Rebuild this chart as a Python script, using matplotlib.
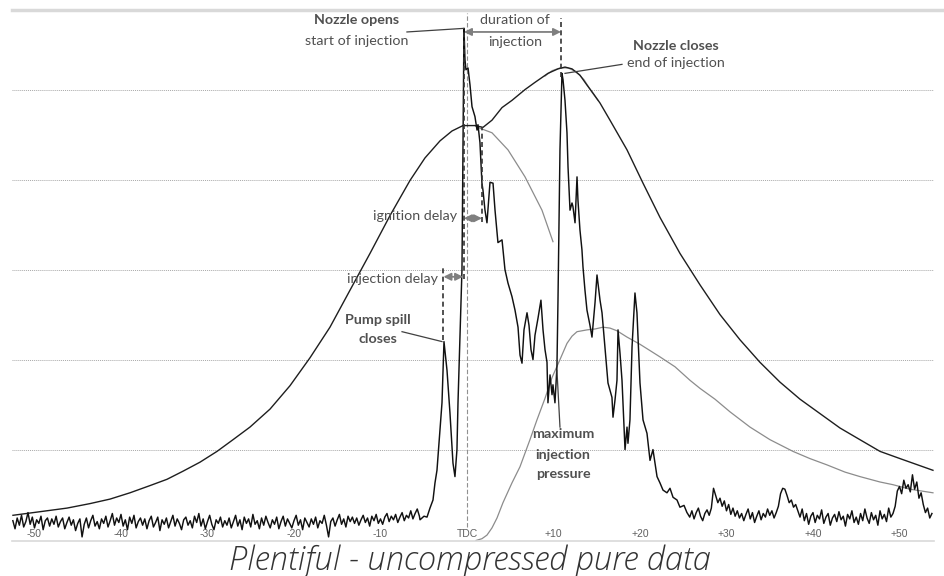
import numpy as np
import matplotlib
matplotlib.use("Agg")
import matplotlib.pyplot as plt

# ---------------- data (crank angle in degrees, value in grid units) ----------------
tick_deg = [-50, -40, -30, -20, -10, 0, 10, 20, 30, 40, 50]
tick_labels = ["-50", "-40", "-30", "-20", "-10", "TDC", "+10", "+20", "+30", "+40", "+50"]

# cylinder pressure (black smooth curve)
cyl_deg = [-52.49, -49.36, -46.24, -43.58, -41.27, -38.96, -36.65, -34.68, -32.83, -30.87,
           -28.90, -27.05, -25.09, -22.77, -20.46, -18.15, -15.84, -13.53, -11.21, -8.90,
           -6.59, -4.86, -3.12, -1.73, -0.46, 0.92, 1.85, 2.89, 4.05, 5.20, 6.71, 7.86, 9.36,
           10.52, 11.33, 12.14, 13.06, 13.87, 14.57, 15.38, 16.53, 18.50, 20.35, 22.31, 24.62,
           26.94, 29.25, 31.56, 33.87, 36.18, 38.50, 40.81, 43.12, 45.43, 47.75, 50.06, 53.87]
cyl_val = [0.28, 0.32, 0.36, 0.41, 0.46, 0.53, 0.61, 0.68, 0.77, 0.87,
           0.99, 1.12, 1.26, 1.46, 1.72, 2.03, 2.37, 2.78, 3.19, 3.61,
           4.00, 4.25, 4.44, 4.55, 4.61, 4.61, 4.59, 4.67, 4.81, 4.89, 5.01, 5.09, 5.19,
           5.24, 5.26, 5.24, 5.17, 5.06, 4.97, 4.86, 4.67, 4.34, 3.97, 3.59, 3.19,
           2.84, 2.51, 2.23, 1.98, 1.76, 1.57, 1.41, 1.25, 1.12, 0.99, 0.91, 0.78]

# motoring continuation (grey)
motor_deg = [0.92, 1.50, 2.89, 4.74, 6.71, 8.67, 9.94]
motor_val = [4.61, 4.58, 4.53, 4.34, 4.04, 3.67, 3.32]

# grey twin near pressure peak
twin_deg = [9.02, 9.83, 10.75, 11.68, 12.60, 13.53, 14.45, 15.14]
twin_val = [5.16, 5.22, 5.25, 5.25, 5.21, 5.12, 4.98, 4.89]

# needle lift / second grey curve
lift_deg = [1.04, 1.73, 2.31, 2.89, 3.47, 4.16, 5.20, 6.13, 7.28, 8.09, 9.02, 9.83, 10.75,
            11.56, 12.14, 12.72, 13.87, 14.80, 15.72, 16.53, 17.34, 18.50, 20.00, 21.16,
            22.31, 24.05, 25.78, 26.94, 28.67, 30.40, 32.72, 35.03, 37.69, 39.65, 41.62,
            43.70, 45.43, 47.75, 49.25, 51.21, 53.87]
lift_val = [0.00, 0.02, 0.06, 0.14, 0.25, 0.42, 0.64, 0.82, 1.12, 1.34, 1.58, 1.81, 2.01,
            2.19, 2.27, 2.32, 2.34, 2.35, 2.37, 2.36, 2.33, 2.26, 2.18, 2.11,
            2.04, 1.93, 1.78, 1.69, 1.57, 1.43, 1.26, 1.12, 0.99, 0.91, 0.84,
            0.76, 0.71, 0.65, 0.62, 0.57, 0.53]

# injection line pressure trace: noise before injection (0.25 deg steps from -52.5)
pre_start, pre_step = -52.5, 0.25
pre_val = [0.22, 0.13, 0.25, 0.17, 0.28, 0.15, 0.21, 0.31, 0.18, 0.26, 0.14, 0.23, 0.19, 0.27, 0.12, 0.22, 0.25, 0.16, 0.24, 0.18,
           0.27, 0.15, 0.21, 0.25, 0.13, 0.20, 0.26, 0.17, 0.23, 0.11, 0.19, 0.24, 0.04, 0.18, 0.25, 0.14, 0.22, 0.28, 0.16, 0.21,
           0.13, 0.24, 0.19, 0.27, 0.15, 0.22, 0.30, 0.17, 0.25, 0.20, 0.29, 0.16, 0.23, 0.12, 0.26, 0.19, 0.28, 0.14, 0.21, 0.25,
           0.17, 0.24, 0.13, 0.22, 0.27, 0.15, 0.20, 0.26, 0.11, 0.23, 0.18, 0.25, 0.14, 0.21, 0.28, 0.16, 0.24, 0.19, 0.12, 0.23,
           0.26, 0.17, 0.22, 0.14, 0.27, 0.20, 0.30, 0.16, 0.24, 0.13, 0.21, 0.28, 0.18, 0.12, 0.23, 0.19, 0.26, 0.15, 0.22, 0.17,
           0.25, 0.14, 0.21, 0.28, 0.16, 0.23, 0.12, 0.26, 0.19, 0.24, 0.15, 0.29, 0.18, 0.22, 0.13, 0.25, 0.17, 0.27, 0.20, 0.14,
           0.23, 0.18, 0.26, 0.13, 0.21, 0.27, 0.16, 0.24, 0.19, 0.14, 0.22, 0.28, 0.17, 0.23, 0.12, 0.25, 0.20, 0.15, 0.24, 0.18,
           0.26, 0.14, 0.22, 0.19, 0.28, 0.17, 0.04, 0.21, 0.25, 0.16, 0.23, 0.29, 0.18, 0.24, 0.15, 0.27, 0.21, 0.26, 0.19, 0.25,
           0.17, 0.23, 0.28, 0.20, 0.25, 0.16, 0.27, 0.22, 0.29, 0.19, 0.24, 0.18, 0.26, 0.30, 0.21, 0.27, 0.23, 0.29, 0.20, 0.26,
           0.31, 0.22, 0.28, 0.25, 0.33, 0.24, 0.30, 0.35, 0.27]

# injection event (explicit points)
inj_deg = [-5.43, -4.97, -4.62, -4.28, -3.93, -3.70, -3.47, -3.12, -2.89, -2.66, -2.31, -1.97,
           -1.62, -1.39, -1.16, -1.04, -0.81, -0.58, -0.46, -0.35, -0.23, -0.12, 0.12, 0.35,
           0.58, 0.92, 1.16, 1.27, 1.50, 1.73, 1.85, 2.08, 2.31, 2.66, 3.01, 3.24, 3.58, 4.05,
           4.39, 4.74, 5.20, 5.55, 5.90, 6.13, 6.36, 6.59, 6.94, 7.17, 7.40, 7.63, 7.86, 8.21,
           8.55, 8.79, 9.02, 9.25, 9.36, 9.60, 9.83, 9.94, 10.17, 10.40, 10.52, 10.75, 10.98,
           11.10, 11.33, 11.56, 11.68, 11.91, 12.14, 12.25, 12.49, 12.72, 12.83, 13.06, 13.29,
           13.41, 13.64, 13.87, 14.22, 14.45, 14.80, 15.03, 15.38, 15.61, 15.95, 16.30, 16.76,
           16.88, 17.11, 17.34, 17.46, 17.69, 17.92, 18.27, 18.50, 18.61, 18.84, 19.08, 19.42,
           19.65, 20.00, 20.35, 20.81, 21.16, 21.50, 21.97, 22.31, 22.66, 23.12, 23.47, 23.82,
           24.28, 24.62, 25.09, 25.43]
inj_val = [0.23, 0.27, 0.26, 0.36, 0.45, 0.64, 0.78, 1.23, 1.53, 2.21, 1.89, 1.42,
           0.86, 0.71, 1.01, 1.53, 2.26, 3.01, 4.34, 5.69, 5.34, 5.23, 5.25, 5.06,
           4.82, 4.71, 4.56, 4.62, 4.42, 3.97, 3.89, 3.67, 3.53, 3.98, 3.97, 3.67, 3.31, 3.34,
           3.01, 2.86, 2.71, 2.56, 2.37, 2.06, 1.97, 2.34, 2.53, 2.39, 2.12, 2.01, 2.28, 2.47,
           2.67, 2.34, 2.12, 1.98, 1.53, 1.84, 1.62, 1.73, 1.53, 1.93, 2.67, 4.34, 5.19,
           5.12, 4.89, 4.53, 4.15, 3.67, 3.75, 3.71, 3.53, 4.04, 3.78, 3.45, 3.23,
           3.04, 2.78, 2.56, 2.39, 2.26, 2.64, 2.95, 2.67, 2.53, 2.15, 1.75, 1.59,
           1.37, 1.56, 1.78, 2.34, 2.08, 1.78, 1.01, 1.26, 1.08, 1.34, 2.15, 2.75,
           2.53, 1.75, 1.34, 1.19, 0.89, 1.01, 0.71, 0.64, 0.56, 0.53, 0.58, 0.48,
           0.45, 0.37, 0.39, 0.31]

# noise after injection (0.25 deg steps from 25.5)
post_start, post_step = 25.5, 0.25
post_val = [0.30, 0.26, 0.33, 0.24, 0.31, 0.36, 0.27, 0.22, 0.30, 0.34, 0.28,
            0.36, 0.58, 0.50, 0.42, 0.47,
            0.38, 0.44, 0.33, 0.40, 0.29, 0.36, 0.27, 0.33, 0.25,
            0.30, 0.22, 0.29, 0.35, 0.24, 0.31, 0.20, 0.27, 0.33, 0.23, 0.30, 0.26, 0.35, 0.28, 0.33, 0.25, 0.31, 0.38,
            0.52, 0.58, 0.57, 0.50, 0.42, 0.45, 0.37, 0.40,
            0.33, 0.26, 0.35, 0.22, 0.30, 0.18, 0.27, 0.31, 0.20, 0.28, 0.24, 0.34, 0.19, 0.26, 0.30, 0.17, 0.25, 0.29, 0.21, 0.32, 0.23, 0.27,
            0.16, 0.29, 0.24, 0.33, 0.20, 0.26, 0.18, 0.30, 0.22, 0.35, 0.25, 0.19, 0.31, 0.23, 0.28, 0.17, 0.33, 0.24, 0.29, 0.21, 0.36, 0.26,
            0.30, 0.38,
            0.55, 0.60, 0.52, 0.67, 0.58, 0.62, 0.54, 0.73, 0.57, 0.65, 0.47, 0.53, 0.40, 0.31, 0.36, 0.25, 0.30]

# event markers (deg)
tdc_deg = 0.0
spill_deg, open_deg, ign_deg, close_deg = -2.72, -0.35, 1.73, 10.87

# ---------------- plotting ----------------
TXT = "#505050"
FONT = ["Lato", "DejaVu Sans"]
fig = plt.figure(figsize=(9.44, 5.76), dpi=100)
ax = fig.add_axes([12 / 944, 35.5 / 576, 922 / 944, 530.5 / 576])
XMIN, XMAX = -52.60, 53.99
YMAX = 5.894
ax.set_xlim(XMIN, XMAX)
ax.set_ylim(0, YMAX)

for s in ["left", "right", "top"]:
    ax.spines[s].set_visible(False)
ax.spines["bottom"].set_color("#d9d9d9")
ax.spines["bottom"].set_linewidth(1.2)
ax.set_yticks([])
ax.set_xticks(tick_deg, tick_labels)
ax.tick_params(axis="x", length=0, pad=-8.5, labelsize=7.5, labelcolor="#606060")
for lab in ax.get_xticklabels():
    lab.set_fontfamily(["Liberation Sans", "DejaVu Sans"])

for g in [1, 2, 3, 4, 5]:
    ax.axhline(g, color="#a8a8a8", lw=0.7, ls=(0, (1, 1)), zorder=0)
ax.axhline(YMAX, xmin=0, xmax=932 / 922, color="#d9d9d9", lw=2.5, clip_on=False, zorder=0)

# TDC line
ax.plot([tdc_deg, tdc_deg], [0.15, YMAX - 0.03], color="#909090", lw=0.8, ls=(0, (4, 2)), zorder=1)

# curves
ax.plot(motor_deg, motor_val, color="#8c8c8c", lw=0.9, zorder=2)
ax.plot(twin_deg, twin_val, color="#9a9a9a", lw=0.9, zorder=2)
ax.plot(lift_deg, lift_val, color="#8c8c8c", lw=0.9, zorder=2)
ax.plot(cyl_deg, cyl_val, color="#1e1e1e", lw=1.0, zorder=3)

pre_deg = pre_start + pre_step * np.arange(len(pre_val))
post_deg = post_start + post_step * np.arange(len(post_val))
trace_deg = np.concatenate([pre_deg, inj_deg, post_deg])
trace_val = np.concatenate([pre_val, inj_val, post_val])
ax.plot(trace_deg, trace_val, color="#111111", lw=1.05, zorder=4)

# dashed event markers
dash = dict(color="#333333", lw=1.2, ls=(0, (3, 2)), zorder=5)
ax.plot([spill_deg, spill_deg], [2.23, 3.05], **dash)
ax.plot([open_deg, open_deg], [2.90, 5.66], **dash)
ax.plot([ign_deg, ign_deg], [3.54, 4.59], **dash)
ax.plot([close_deg, close_deg], [5.15, 5.80], **dash)

# double arrows
arr = dict(arrowstyle="<|-|>", color="#7f7f7f", lw=1.3, mutation_scale=11, shrinkA=0, shrinkB=0)
ax.annotate("", xy=(open_deg, 5.65), xytext=(close_deg, 5.65), arrowprops=arr, zorder=6)
ax.annotate("", xy=(open_deg, 3.58), xytext=(ign_deg, 3.58), arrowprops=arr, zorder=6)
ax.annotate("", xy=(spill_deg, 2.93), xytext=(open_deg - 0.1, 2.93), arrowprops=arr, zorder=6)

# leader lines
lead = dict(color="#404040", lw=0.9, zorder=6)
ax.plot([-6.94, -0.35], [5.65, 5.69], **lead)
ax.plot([17.92, 11.33], [5.29, 5.19], **lead)
ax.plot([-7.51, -2.89], [2.32, 2.21], **lead)
ax.plot([10.75, 10.40], [1.26, 1.89], **lead)

# labels
def t(x, y, s, ha="center", bold=False):
    ax.text(x, y, s, ha=ha, va="center", fontsize=10.3, color=TXT, family=FONT,
            fontweight="bold" if bold else "normal", zorder=7)

t(-12.75, 5.78, "Nozzle opens", bold=True)
t(-12.75, 5.55, "start of injection")
t(5.55, 5.78, "duration of")
t(5.55, 5.54, "injection")
t(24.16, 5.49, "Nozzle closes", bold=True)
t(24.16, 5.31, "end of injection")
t(-1.16, 3.61, "ignition delay", ha="right")
t(-3.35, 2.91, "injection delay", ha="right")
t(-10.29, 2.45, "Pump spill", bold=True)
t(-10.29, 2.24, "closes", bold=True)
t(11.10, 1.18, "maximum", bold=True)
t(11.10, 0.95, "injection", bold=True)
t(11.10, 0.74, "pressure", bold=True)

fig.text(470 / 944, 15 / 576, "Plentiful - uncompressed pure data", ha="center", va="center",
         fontsize=23.5, style="italic", fontweight="light", color="#333333",
         family=["Open Sans", "DejaVu Sans"])

fig.savefig("out.png", dpi=100)
